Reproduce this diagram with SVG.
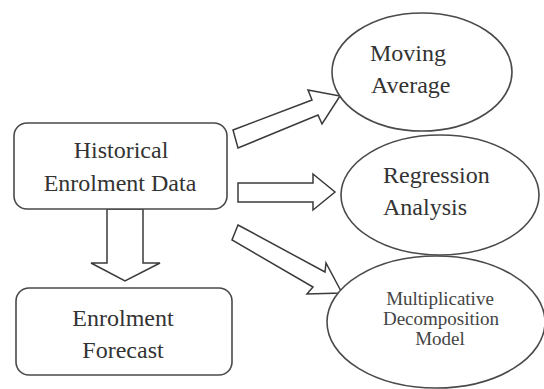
<svg xmlns="http://www.w3.org/2000/svg" width="544" height="389" viewBox="0 0 544 389">
<style>
.box{fill:#fff;stroke:#4a4a4a;stroke-width:1.6}
.arr{fill:#fff;stroke:#3a3a3a;stroke-width:1.5;stroke-linejoin:miter}
text{font-family:'Liberation Serif','Times New Roman',Times,serif}
.t{font-size:24px;fill:#333}
.s{font-size:19px;fill:#444;text-anchor:middle}
.c{text-anchor:middle}
</style>
<rect width="544" height="389" fill="#fff"/>
<g id="connectors">
<polygon class="arr" points="107,209 143,209 143,263 160,263 125,281 91,263 107,263"/>
<polygon class="arr" points="238,183 313,183 313,174 335,192 313,210 313,202 238,202"/>
<polygon class="arr" points="233,130 312,100 308,90 340,96 322,124 318,115 238,148"/>
<polygon class="arr" points="238,225 325,272 326,263 342,293 307,294 313,287 232,240"/>
</g>
<g id="historical">
<rect class="box" x="14" y="123" width="213" height="86" rx="13"/>
<text class="t c" x="121" y="158" font-family="Liberation Serif, serif">Historical</text>
<text class="t c" x="120" y="191" font-family="Liberation Serif, serif">Enrolment Data</text>
</g>
<g id="forecast">
<rect class="box" x="16" y="288" width="216" height="87" rx="13"/>
<text class="t c" x="123" y="326" font-family="Liberation Serif, serif">Enrolment</text>
<text class="t c" x="123" y="358" font-family="Liberation Serif, serif">Forecast</text>
</g>
<g id="moving">
<ellipse class="box" cx="422" cy="72" rx="90" ry="59"/>
<text class="t" x="370" y="61" font-family="Liberation Serif, serif">Moving</text>
<text class="t" x="371" y="93" font-family="Liberation Serif, serif">Average</text>
</g>
<g id="regression">
<ellipse class="box" cx="440" cy="195" rx="99" ry="60"/>
<text class="t" x="383" y="183" font-family="Liberation Serif, serif">Regression</text>
<text class="t" x="383" y="215" font-family="Liberation Serif, serif">Analysis</text>
</g>
<g id="multiplicative">
<ellipse class="box" cx="436" cy="322" rx="109" ry="66"/>
<text class="s" x="440" y="305" font-family="Liberation Serif, serif">Multiplicative</text>
<text class="s" x="441" y="325" font-family="Liberation Serif, serif">Decomposition</text>
<text class="s" x="440" y="345" font-family="Liberation Serif, serif">Model</text>
</g>
</svg>
